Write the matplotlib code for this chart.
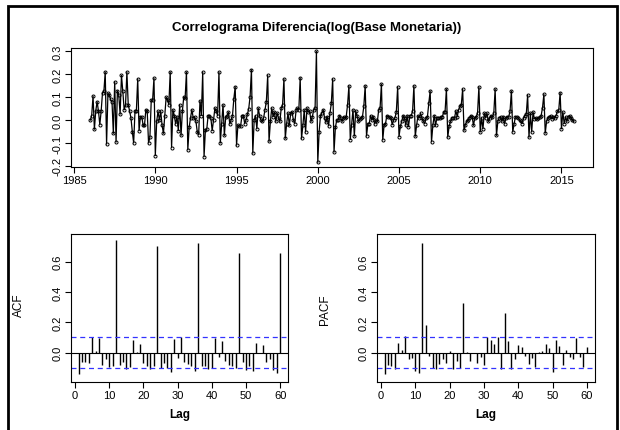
import numpy as np
import matplotlib
matplotlib.use("Agg")
import matplotlib.pyplot as plt
from matplotlib.patches import Rectangle

plt.rcParams['font.family'] = ['Liberation Sans', 'DejaVu Sans']

# ---------------- data ----------------
start_year = 1986.0
y1986 = [0.00, 0.02, 0.105, -0.04, 0.04, 0.08, 0.04, -0.02, 0.04, 0.12, 0.125, 0.21]
y1987 = [-0.105, 0.117, 0.11, 0.09, 0.08, -0.058, 0.168, -0.096, 0.128, 0.11, 0.026, 0.195]
y1988 = [0.125, 0.045, 0.067, 0.21, 0.067, 0.04, 0.01, -0.05, -0.10, 0.04, 0.04, 0.18]
y1989 = [-0.046, 0.015, 0.015, -0.023, -0.023, 0.045, 0.04, -0.10, -0.075, 0.088, 0.088, 0.183]
y1990 = [-0.155, -0.006, 0.038, 0.0, 0.038, -0.023, -0.058, 0.02, 0.10, 0.088, 0.067, 0.21]
y1991 = [-0.12, 0.045, 0.02, -0.017, 0.015, -0.046, 0.067, -0.067, 0.04, 0.10, 0.095, 0.21]
y1992 = [-0.13, -0.032, 0.01, 0.045, 0.01, 0.015, -0.006, -0.052, -0.064, 0.084, 0.02, 0.21]
y1993 = [-0.16, -0.042, -0.04, 0.02, 0.018, 0.01, -0.046, 0.0, 0.052, 0.04, 0.02, 0.21]
y1994 = [-0.10, -0.015, 0.067, -0.067, 0.015, 0.02, 0.035, -0.017, 0.0, 0.02, 0.093, 0.146]
y1995 = [-0.11, -0.023, -0.026, -0.026, 0.02, 0.02, -0.015, 0.0, 0.026, 0.05, 0.103, 0.22]
y1996 = [-0.145, 0.0, 0.02, -0.038, 0.052, 0.02, 0.0, -0.006, 0.01, 0.045, 0.08, 0.195]
y1997 = [-0.093, -0.006, 0.052, 0.015, 0.035, -0.006, 0.03, 0.01, -0.006, 0.052, 0.067, 0.18]
y1998 = [-0.08, -0.015, 0.03, -0.023, 0.03, 0.035, 0.0, -0.015, 0.045, 0.052, 0.045, 0.185]
y1999 = [-0.08, -0.023, 0.045, -0.052, 0.052, 0.035, 0.04, -0.006, 0.015, 0.045, 0.052, 0.30]
y2000 = [-0.185, -0.05, 0.02, 0.03, 0.045, 0.01, -0.01, 0.015, -0.025, 0.03, 0.074, 0.18]
y2001 = [-0.14, -0.032, 0.0, 0.0, 0.02, 0.01, -0.006, 0.015, 0.01, 0.015, 0.067, 0.15]
y2002 = [-0.085, -0.02, 0.045, -0.07, 0.04, 0.02, -0.006, 0.006, 0.01, 0.015, 0.06, 0.15]
y2003 = [-0.07, -0.017, -0.015, 0.02, 0.0, 0.015, -0.017, 0.0, -0.006, 0.045, 0.052, 0.157]
y2004 = [-0.087, -0.02, -0.017, 0.02, 0.015, 0.015, 0.01, -0.02, 0.0, 0.01, 0.035, 0.145]
y2005 = [-0.072, -0.027, -0.006, 0.02, 0.01, -0.023, 0.02, -0.029, 0.02, 0.02, 0.038, 0.15]
y2006 = [-0.071, -0.023, 0.02, 0.01, 0.029, 0.01, -0.006, -0.015, 0.01, 0.015, 0.074, 0.127]
y2007 = [-0.095, -0.023, 0.02, -0.023, 0.01, 0.01, 0.01, 0.015, 0.015, 0.035, 0.035, 0.136]
y2008 = [-0.075, -0.027, -0.006, 0.01, 0.01, 0.01, 0.04, 0.015, 0.045, 0.06, 0.067, 0.136]
y2009 = [-0.045, -0.02, -0.006, 0.0, 0.01, 0.02, 0.015, -0.023, 0.01, 0.015, 0.03, 0.145]
y2010 = [-0.052, 0.01, -0.038, 0.03, 0.01, 0.03, -0.006, 0.01, 0.02, 0.015, 0.03, 0.136]
y2011 = [-0.067, -0.006, 0.01, 0.015, -0.006, 0.015, -0.017, 0.01, 0.015, 0.015, 0.038, 0.127]
y2012 = [-0.052, -0.017, 0.015, 0.015, 0.01, 0.0, -0.006, -0.015, 0.01, 0.02, 0.026, 0.11]
y2013 = [-0.075, 0.03, -0.052, 0.035, 0.006, 0.01, 0.006, 0.01, 0.015, 0.02, 0.055, 0.113]
y2014 = [-0.057, -0.006, 0.01, 0.015, 0.02, 0.006, 0.015, 0.01, 0.02, 0.038, 0.045, 0.12]
y2015 = [-0.038, 0.035, -0.015, 0.012, -0.006, 0.015, 0.02, 0.01, 0.0, -0.006]

series = (y1986 + y1987 + y1988 + y1989 + y1990 + y1991 + y1992 + y1993 + y1994 +
          y1995 + y1996 + y1997 + y1998 + y1999 + y2000 + y2001 + y2002 + y2003 +
          y2004 + y2005 + y2006 + y2007 + y2008 + y2009 + y2010 + y2011 + y2012 +
          y2013 + y2014 + y2015)

lags = list(range(1, 61))
acf_vals = [-0.143, -0.06, -0.065, -0.07, 0.105, 0.01, 0.095, -0.084, -0.044, -0.093,
            -0.088, 0.745, -0.084, -0.062, -0.106, -0.097, 0.083, 0.005, 0.055, -0.066,
            -0.088, -0.106, -0.088, 0.70, -0.10, -0.066, -0.10, -0.13, 0.092, -0.033,
            0.10, -0.062, -0.077, -0.088, -0.12, 0.72, -0.088, -0.088, -0.105, -0.10,
            0.098, -0.026, 0.075, -0.055, -0.082, -0.088, -0.10, 0.657, -0.062, -0.115,
            -0.088, -0.12, 0.066, -0.005, 0.05, -0.062, -0.045, -0.115, -0.132, 0.655]
pacf_vals = [-0.143, -0.084, -0.088, -0.11, 0.066, 0.018, 0.11, -0.04, -0.033, -0.12,
             -0.137, 0.72, 0.185, -0.022, -0.10, -0.106, -0.077, -0.04, -0.07, 0.011,
             -0.11, -0.055, -0.10, 0.33, 0.005, -0.055, -0.006, -0.07, -0.026, -0.084,
             0.106, 0.084, 0.055, 0.105, -0.11, 0.26, 0.077, -0.11, -0.04, 0.049,
             0.04, -0.022, -0.077, -0.033, -0.093, 0.005, 0.011, 0.057, 0.033, -0.128,
             0.084, 0.044, -0.084, 0.015, -0.026, -0.04, 0.093, -0.026, -0.095, 0.04]

title = "Correlograma Diferencia(log(Base Monetaria))"
year_ticks = [1985, 1990, 1995, 2000, 2005, 2010, 2015]
ts_yticks = [-0.2, -0.1, 0.0, 0.1, 0.2, 0.3]
cf_yticks = [0.0, 0.2, 0.4, 0.6]
lag_ticks = [0, 10, 20, 30, 40, 50, 60]

# ---------------- figure ----------------
W, H = 620, 431
fig = plt.figure(figsize=(W / 100, H / 100), dpi=100)

def px_axes(l, t, r, b):
    return fig.add_axes([l / W, 1 - b / H, (r - l) / W, (b - t) / H])

def style(ax):
    for s in ax.spines.values():
        s.set_color('black')
        s.set_linewidth(0.8)
    ax.tick_params(direction='out', length=4, width=0.8, labelsize=8, colors='black', pad=2)

n = len(series)
t = start_year + np.arange(n) / 12.0
vals = np.array(series)

ax1 = px_axes(71, 49, 593, 168)
ax1.plot(t, vals, color='black', lw=0.9, marker='o', ms=2.2, mfc='none', mew=0.7)
tr = t[-1] - t[0]
ax1.set_xlim(t[0] - 0.04 * tr, t[-1] + 0.04 * tr)
ax1.set_ylim(-0.205, 0.315)
ax1.set_xticks(year_ticks)
ax1.set_xticklabels([str(y) for y in year_ticks])
ax1.set_yticks(ts_yticks)
ax1.set_yticklabels([f"{v:.1f}" for v in ts_yticks], rotation=90, va='center')
style(ax1)
fig.text(317 / W, 1 - 28 / H, title, ha='center', va='center', fontsize=9.5, fontweight='bold')

conf = 1.96 / np.sqrt(n)
ylo, yhi = -0.192, 0.782

def cf_panel(ax, values):
    ax.vlines(lags, 0, values, color='black', lw=1.0)
    ax.axhline(0, color='black', lw=0.8)
    ax.axhline(conf, color='#3333ff', lw=0.9, ls=(0, (4, 3)))
    ax.axhline(-conf, color='#3333ff', lw=0.9, ls=(0, (4, 3)))
    ax.set_xlim(-1.3, 62.4)
    ax.set_ylim(ylo, yhi)
    ax.set_xticks(lag_ticks)
    ax.set_yticks(cf_yticks)
    ax.set_yticklabels([f"{v:.1f}" for v in cf_yticks], rotation=90, va='center')
    ax.set_xlabel("Lag", fontsize=8.5, fontweight='bold', labelpad=6)
    style(ax)

ax2 = px_axes(70.7, 235, 288.3, 382.7)
cf_panel(ax2, acf_vals)
fig.text(19 / W, 1 - 305 / H, "ACF", rotation=90, ha='center', va='center', fontsize=8.5)

ax3 = px_axes(376.7, 235, 595, 382.7)
cf_panel(ax3, pacf_vals)
fig.text(325 / W, 1 - 310 / H, "PACF", rotation=90, ha='center', va='center', fontsize=8.5)

# outer frame (bottom edge falls outside the image, as in the reference)
fig.patches.append(Rectangle((8 / W, -0.05), (W - 8 - 3) / W, 1.05 - 7 / H, transform=fig.transFigure,
                             fill=False, edgecolor='black', lw=2.0, clip_on=False))

fig.savefig("out.png", dpi=100)
